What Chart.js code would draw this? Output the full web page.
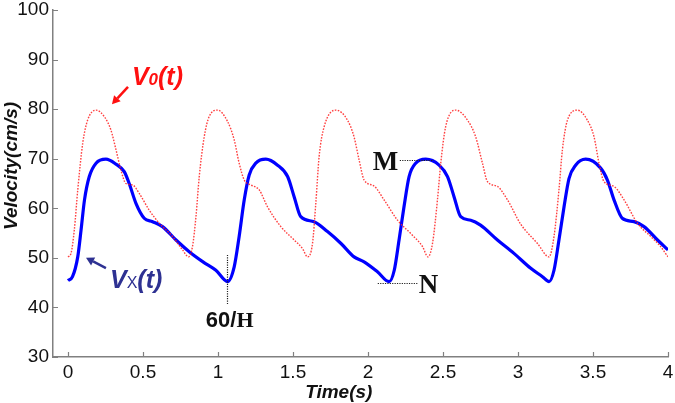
<!DOCTYPE html>
<html>
<head>
<meta charset="utf-8">
<script src="https://cdn.jsdelivr.net/npm/chart.js@4.4.1/dist/chart.umd.min.js"></script>
<style>
html,body{margin:0;padding:0;background:#fff;}
#wrap{width:675px;height:403px;position:relative;}
</style>
</head>
<body>
<div id="wrap"><canvas id="c" width="675" height="403"></canvas></div>
<script>
// ---- data ----
const xTicks = [0, 0.5, 1, 1.5, 2, 2.5, 3, 3.5, 4];
const yTicks = [30, 40, 50, 60, 70, 80, 90, 100];

const blueT = [0.00,0.03,0.065,0.087,0.11,0.142,0.187,0.253,0.32,0.375,0.408,0.453,0.508,0.564,0.63,0.72,0.81,0.90,0.986,1.064,
  1.108,1.141,1.175,1.208,1.252,1.319,1.397,1.464,1.508,1.552,1.64,1.73,1.82,1.907,1.974,2.063,2.141,
  2.175,2.207,2.24,2.274,2.318,2.385,2.474,2.53,2.574,2.618,2.685,2.75,2.863,2.973,3.085,3.163,3.207,
  3.24,3.273,3.307,3.34,3.384,3.451,3.551,3.596,3.64,3.695,3.773,3.84,3.93,4.0];
const blueV = [45.4,46.2,50.2,55.6,61.7,66.4,69.1,69.9,68.9,67.4,65.0,61.0,58.0,57.3,56.3,53.6,51.2,49.2,47.5,45.2,
  48.2,54.3,61.7,66.7,69.1,69.9,68.7,66.4,62.3,58.3,57.3,55.3,52.9,50.2,49.2,47.2,45.2,
  47.5,53.6,60.3,66.4,69.1,69.9,68.7,66.4,62.3,58.3,57.6,56.6,53.6,50.9,47.9,46.2,45.2,
  47.5,53.6,60.3,66.0,68.7,69.9,68.1,65.7,61.7,58.0,57.3,56.3,53.6,51.6];

const redT = [0.00,0.02,0.042,0.065,0.098,0.131,0.187,0.242,0.286,0.32,0.353,0.386,0.431,0.475,0.542,0.608,0.697,0.764,0.804,
  0.83,0.853,0.875,0.908,0.941,0.997,1.064,1.108,1.141,1.175,1.219,1.275,1.33,1.419,1.508,1.563,1.597,
  1.63,1.652,1.674,1.708,1.786,1.863,1.907,1.941,1.974,2.04,2.107,2.197,2.285,2.363,2.4,
  2.43,2.463,2.485,2.518,2.585,2.663,2.718,2.763,2.796,2.863,2.93,3.018,3.13,3.207,
  3.24,3.273,3.296,3.33,3.396,3.462,3.507,3.54,3.573,3.64,3.707,3.796,3.885,3.95,4.0];
const redV = [50.2,50.9,55.6,63.7,73.1,77.8,79.8,78.5,75.8,71.8,67.7,65.0,64.7,63.0,59.6,57.0,54.3,51.6,50.2,
  52.3,58.3,66.4,74.4,78.5,79.8,77.5,73.8,69.1,65.7,64.7,63.7,60.3,56.3,53.6,51.9,50.2,
  52.9,61.0,70.4,76.5,79.8,77.8,74.4,69.7,65.7,64.5,61.7,57.6,54.9,52.3,50.2,
  52.9,61.7,69.1,76.5,79.8,77.8,74.4,69.1,65.4,64.4,61.7,56.8,52.9,50.2,
  54.3,63.7,71.8,77.8,79.8,77.8,74.4,69.1,65.4,64.4,61.7,57.0,54.3,52.3,50.2];

const toPts = (ts, vs) => ts.map((t, i) => ({x: t, y: vs[i]}));

const SANS = '"Liberation Sans", Arial, sans-serif';
const SERIF = '"Liberation Serif", "Times New Roman", serif';

const decor = {
  id: 'decor',
  afterDraw(chart) {
    const ctx = chart.ctx, xs = chart.scales.x, ys = chart.scales.y, ca = chart.chartArea;
    const X = v => xs.getPixelForValue(v), Y = v => ys.getPixelForValue(v);
    ctx.save();
    // inward tick marks
    ctx.strokeStyle = '#808080'; ctx.lineWidth = 1.2;
    ctx.beginPath();
    yTicks.forEach(v => { const y = Math.round(Y(v)) + 0.5; ctx.moveTo(ca.left, y); ctx.lineTo(ca.left + 5, y); });
    xTicks.forEach(v => { const x = Math.round(X(v)) + 0.5; ctx.moveTo(x, ca.bottom); ctx.lineTo(x, ca.bottom - 5); });
    ctx.stroke();

    // axis titles
    ctx.fillStyle = '#111';
    ctx.font = 'italic bold 19px ' + SANS;
    ctx.textAlign = 'center'; ctx.textBaseline = 'alphabetic';
    ctx.fillText('Time(s)', X(1.805), 398);
    ctx.save();
    ctx.translate(17, 166);
    ctx.rotate(-Math.PI / 2);
    ctx.fillText('Velocity(cm/s)', 0, 0);
    ctx.restore();

    function runs(x, y, parts) {
      ctx.textAlign = 'left';
      parts.forEach(p => { ctx.font = p.f; ctx.fillStyle = p.c; ctx.fillText(p.t, x, y); x += ctx.measureText(p.t).width; });
    }
    function arrow(x1, y1, x2, y2, color, w) {
      ctx.strokeStyle = color; ctx.fillStyle = color; ctx.lineWidth = w; ctx.setLineDash([]);
      const a = Math.atan2(y2 - y1, x2 - x1), L = 8, H = 4.5;
      const bx = x2 - L * Math.cos(a), by = y2 - L * Math.sin(a);
      ctx.beginPath(); ctx.moveTo(x1, y1); ctx.lineTo(bx, by); ctx.stroke();
      ctx.beginPath(); ctx.moveTo(x2, y2);
      ctx.lineTo(bx + H * Math.sin(a), by - H * Math.cos(a));
      ctx.lineTo(bx - H * Math.sin(a), by + H * Math.cos(a));
      ctx.closePath(); ctx.fill();
    }
    function dotted(x1, y1, x2, y2) {
      ctx.strokeStyle = '#222'; ctx.lineWidth = 1.2; ctx.setLineDash([1.2, 1.2]);
      ctx.beginPath(); ctx.moveTo(x1, y1); ctx.lineTo(x2, y2); ctx.stroke(); ctx.setLineDash([]);
    }

    const red = '#ff1010';
    runs(X(0.426), Y(84.9), [
      {t: 'V', f: 'italic bold 25px ' + SANS, c: red},
      {t: '0', f: 'italic bold 17px ' + SANS, c: red},
      {t: '(t)', f: 'italic bold 25px ' + SANS, c: red}]);
    arrow(X(0.40), Y(84.5), X(0.293), Y(81.0), red, 2.5);

    const navy = '#2e3192';
    runs(X(0.28), Y(43.9), [
      {t: 'V', f: 'italic bold 25px ' + SANS, c: navy},
      {t: 'X', f: '16px ' + SANS, c: navy},
      {t: '(t)', f: 'italic bold 25px ' + SANS, c: navy}]);
    arrow(X(0.253), Y(47.95), X(0.12), Y(50.0), navy, 2.5);

    dotted(Math.round(X(1.059)) + 0.5, Y(50.6), Math.round(X(1.059)) + 0.5, Y(40.5));
    runs(X(0.919), Y(36.05), [
      {t: '60/', f: 'bold 22px ' + SANS, c: '#111'},
      {t: 'H', f: 'bold 22px ' + SERIF, c: '#111'}]);

    runs(X(2.032), Y(67.7), [{t: 'M', f: 'bold 27px ' + SERIF, c: '#111'}]);
    dotted(X(2.212), Math.round(Y(69.84)) + 0.5, X(2.438), Math.round(Y(69.84)) + 0.5);
    runs(X(2.338), Y(42.9), [{t: 'N', f: 'bold 27px ' + SERIF, c: '#111'}]);
    dotted(X(2.065), Math.round(Y(44.93)) + 0.5, X(2.332), Math.round(Y(44.93)) + 0.5);
    ctx.restore();
  }
};

new Chart(document.getElementById('c'), {
  type: 'line',
  data: {
    datasets: [
      {label: 'V0(t)', data: toPts(redT, redV), borderColor: 'rgba(255,30,30,0.85)', borderWidth: 1.4,
       borderDash: [1.6, 1.4], pointRadius: 0, cubicInterpolationMode: 'monotone', fill: false},
      {label: 'Vx(t)', data: toPts(blueT, blueV), borderColor: '#0000ff', borderWidth: 3.2,
       pointRadius: 0, cubicInterpolationMode: 'monotone', fill: false}
    ]
  },
  options: {
    responsive: false, animation: false, devicePixelRatio: 1,
    layout: {padding: {top: 10, right: 7, left: 0, bottom: 0}},
    plugins: {legend: {display: false}, tooltip: {enabled: false}},
    scales: {
      x: {
        type: 'linear', min: -0.1, max: 4,
        afterBuildTicks: s => { s.ticks = xTicks.map(v => ({value: v})); },
        afterFit: s => { s.height = 46; s.paddingLeft = 0; s.paddingRight = 0; },
        grid: {display: true, drawOnChartArea: false, drawTicks: false},
        border: {display: true, color: '#808080', width: 1.5},
        ticks: {padding: 4, color: '#111', font: {family: SANS, size: 19}, maxRotation: 0, autoSkip: false,
                callback: v => String(v)}
      },
      y: {
        type: 'linear', min: 30, max: 100,
        afterBuildTicks: s => { s.ticks = yTicks.map(v => ({value: v})); },
        afterFit: s => { s.width = 53; s.paddingTop = 0; s.paddingBottom = 0; },
        grid: {display: true, drawOnChartArea: false, drawTicks: false},
        border: {display: true, color: '#808080', width: 1.5},
        ticks: {padding: 4, color: '#111', font: {family: SANS, size: 19}, callback: v => String(v)}
      }
    }
  },
  plugins: [decor]
});
</script>
</body>
</html>
